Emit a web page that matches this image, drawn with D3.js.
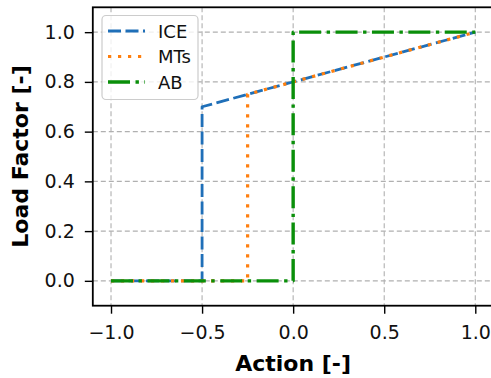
<!DOCTYPE html>
<html>
<head>
<meta charset="utf-8">
<script src="https://cdn.jsdelivr.net/npm/d3@7"></script>
<style>
  body { margin: 0; background: #fff; }
  svg { display: block; font-family: "DejaVu Sans", sans-serif; }
</style>
</head>
<body>
<svg></svg>
<script>
// data
let seriesNames = ['ICE', 'MTs', 'AB']
let actionICE = [-1.0, -0.5, -0.5, 1.0]
let loadICE = [0.0, 0.0, 0.7, 1.0]
let actionMTs = [-1.0, -0.25, -0.25, 1.0]
let loadMTs = [0.0, 0.0, 0.75, 1.0]
let actionAB = [-1.0, 0.0, 0.0, 1.0]
let loadAB = [0.0, 0.0, 1.0, 1.0]
let xTicks = [-1.0, -0.5, 0.0, 0.5, 1.0]
let yTicks = [0.0, 0.2, 0.4, 0.6, 0.8, 1.0]

let width = 491
let height = 378
let axLeft = 92.8
let axRight = 493.5
let axTop = 7.3
let axBottom = 305.7

let svg = d3.select('svg').attr('width', width).attr('height', height)

let xScale = d3.scaleLinear().domain([-1.1, 1.1]).range([axLeft, axRight])
let yScale = d3.scaleLinear().domain([-0.1, 1.1]).range([axBottom, axTop])

let fmt = (d) => d.toFixed(1).replace('-', '\u2212')

// grid
svg.append('g').selectAll('line')
   .data(xTicks).enter().append('line')
   .attr('x1', (d) => xScale(d)).attr('x2', (d) => xScale(d))
   .attr('y1', axTop).attr('y2', axBottom)
   .attr('stroke', '#b0b0b0').attr('stroke-width', 1.1)
   .attr('stroke-dasharray', '5,3')
svg.append('g').selectAll('line')
   .data(yTicks).enter().append('line')
   .attr('y1', (d) => yScale(d)).attr('y2', (d) => yScale(d))
   .attr('x1', axLeft).attr('x2', axRight)
   .attr('stroke', '#b0b0b0').attr('stroke-width', 1.1)
   .attr('stroke-dasharray', '5,3')

let styles = [
  {color: '#1f6fb8', width: 2.8, dash: '13,4.5'},
  {color: '#ff7f0e', width: 3.2, dash: '3.2,6.8'},
  {color: '#0a8f0a', width: 3.4, dash: '22,5.5,3.4,5.5'}
]
let series = [
  d3.zip(actionICE, loadICE),
  d3.zip(actionMTs, loadMTs),
  d3.zip(actionAB, loadAB)
]

let line = d3.line().x((d) => xScale(d[0])).y((d) => yScale(d[1]))

series.forEach((s, i) => {
  svg.append('path')
     .datum(s)
     .attr('d', line)
     .attr('fill', 'none')
     .attr('stroke', styles[i].color)
     .attr('stroke-width', styles[i].width)
     .attr('stroke-dasharray', styles[i].dash)
     .attr('stroke-linejoin', 'round')
})

// axes
let xAxis = d3.axisBottom(xScale).tickValues(xTicks).tickFormat(fmt)
                .tickSizeInner(8).tickSizeOuter(0).tickPadding(12)
let gx = svg.append('g')
   .attr('transform', 'translate(0,' + axBottom + ')')
   .call(xAxis)
gx.select('.domain').remove()
gx.selectAll('line').attr('stroke', '#000').attr('stroke-width', 1.4)
gx.selectAll('text').attr('font-size', 19).attr('fill', '#111')
   .attr('font-family', '"DejaVu Sans", sans-serif')

let yAxis = d3.axisLeft(yScale).tickValues(yTicks).tickFormat(fmt)
                .tickSizeInner(8).tickSizeOuter(0).tickPadding(10)
let gy = svg.append('g')
   .attr('transform', 'translate(' + axLeft + ',0)')
   .call(yAxis)
gy.select('.domain').remove()
gy.selectAll('line').attr('stroke', '#000').attr('stroke-width', 1.4)
gy.selectAll('text').attr('font-size', 19).attr('fill', '#111')
   .attr('font-family', '"DejaVu Sans", sans-serif')

// spines
svg.append('rect')
   .attr('x', axLeft).attr('y', axTop)
   .attr('width', axRight - axLeft).attr('height', axBottom - axTop)
   .attr('fill', 'none').attr('stroke', '#000').attr('stroke-width', 1.8)

// axis labels
svg.append('text')
   .attr('x', (axLeft + axRight) / 2).attr('y', 371)
   .attr('text-anchor', 'middle')
   .attr('font-size', 22).attr('font-weight', 'bold')
   .text('Action [-]')
svg.append('text')
   .attr('transform', 'translate(27.5,' + ((axTop + axBottom) / 2) + ') rotate(-90)')
   .attr('text-anchor', 'middle')
   .attr('font-size', 22).attr('font-weight', 'bold')
   .text('Load Factor [-]')

// legend
let legend = svg.append('g')
legend.append('rect')
   .attr('x', 102).attr('y', 15.5)
   .attr('width', 96).attr('height', 84)
   .attr('rx', 4)
   .attr('fill', 'rgba(255,255,255,0.8)')
   .attr('stroke', '#cccccc').attr('stroke-width', 1.2)
seriesNames.forEach((name, i) => {
  let y = 31 + i * 25.5
  legend.append('line')
     .attr('x1', 108).attr('x2', 145)
     .attr('y1', y).attr('y2', y)
     .attr('stroke', styles[i].color)
     .attr('stroke-width', styles[i].width)
     .attr('stroke-dasharray', styles[i].dash)
  legend.append('text')
     .attr('x', 158).attr('y', y + 6.5)
     .attr('font-size', 18).attr('fill', '#111')
     .text(name)
})
</script>
</body>
</html>
